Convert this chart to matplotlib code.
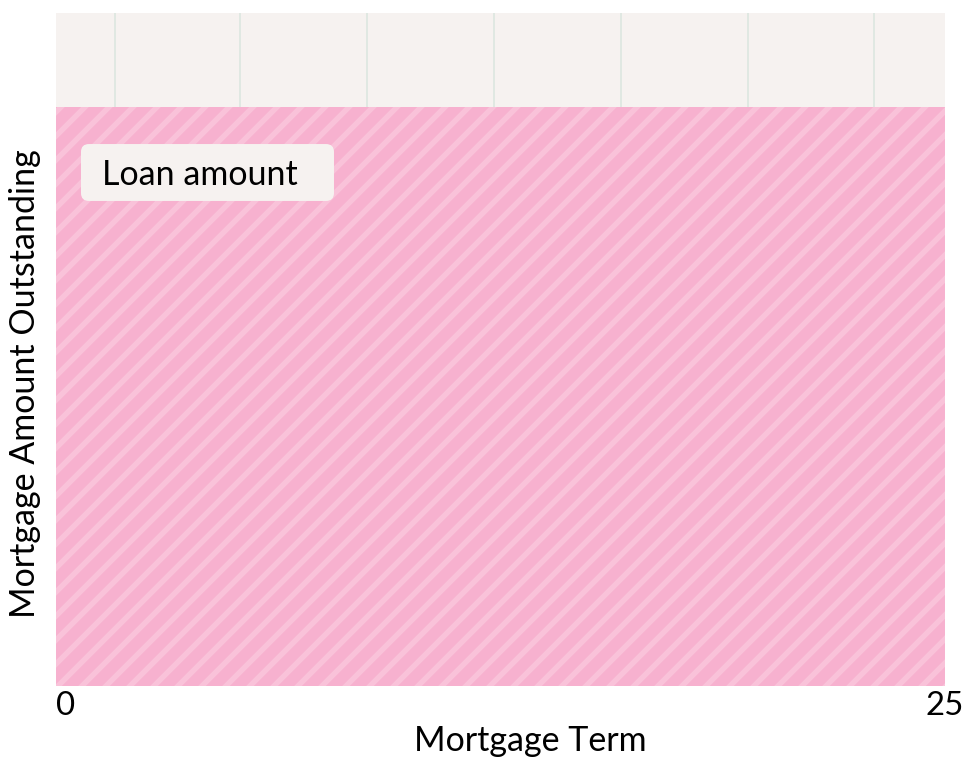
import matplotlib
matplotlib.use('Agg')
import matplotlib.pyplot as plt
from matplotlib.patches import FancyBboxPatch

# chart data
term_years = [0, 25]
loan_amount = [200000, 200000]       # flat, nothing repaid yet
y_max = 232500
grid_years = [1.66, 5.17, 8.74, 12.32, 15.88, 19.46, 23.0]
tick_years = [0, 25]
tick_labels = ['0', '25']

plt.rcParams['font.family'] = ['Lato', 'DejaVu Sans']
plt.rcParams['hatch.linewidth'] = 5.5
plt.rcParams['hatch.color'] = '#f9c2d9'

# dpi 72 so one hatch cell is 72px -> stripes ~12px apart
fig = plt.figure(figsize=(964 / 72, 767 / 72), dpi=72)
ax = fig.add_axes([56 / 964, 1 - 686 / 767, 889 / 964, 673 / 767])
ax.set_facecolor('#f6f2f0')

for g in grid_years:
    ax.axvline(g, color='#dbe6df', lw=1.6, zorder=0)

ax.fill_between(term_years, 0, loan_amount, facecolor='#f7b1cf',
                edgecolor='#f9c2d9', hatch='/', linewidth=0,
                label='Loan amount', zorder=2)

ax.set_xlim(0, 25)
ax.set_ylim(0, y_max)
ax.set_yticks([])
ax.set_xticks(tick_years)
ax.set_xticklabels(tick_labels, fontsize=33)
ax.tick_params(axis='x', length=0, pad=5)
ax.get_xticklabels()[0].set_ha('left')
for s in ax.spines.values():
    s.set_visible(False)

ax.set_xlabel('Mortgage Term', fontsize=34)
ax.xaxis.set_label_coords(0.5336, -0.058)
ax.set_ylabel('Mortgage Amount Outstanding', fontsize=34)
ax.yaxis.set_label_coords(-0.017, 0.449)

# legend drawn as a rounded label box
box = FancyBboxPatch((0.0281, 0.7207), 0.2846, 0.0846,
                     boxstyle='round,pad=0,rounding_size=0.009',
                     transform=ax.transAxes, facecolor='#f6f2f0',
                     edgecolor='none', zorder=5, mutation_aspect=1.3)
ax.add_patch(box)
ax.text(0.0518, 0.760, 'Loan amount', transform=ax.transAxes, fontsize=34,
        va='center', ha='left', zorder=6)

fig.savefig('out.png', dpi=72)
